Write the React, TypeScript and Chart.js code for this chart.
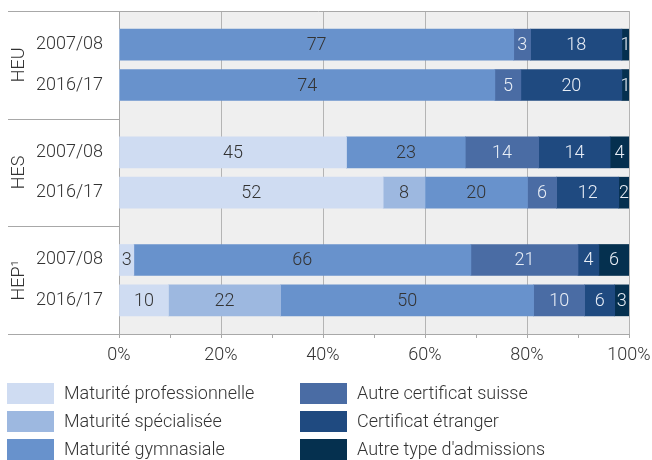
import React, { useEffect, useRef } from "react";
import { Chart, registerables } from "chart.js";
Chart.register(...registerables);

const groups = ["HEU", "HES", "HEP¹"];
const years = ["2007/08", "2016/17"];
const seriesNames = [
  "Maturité professionnelle",
  "Maturité spécialisée",
  "Maturité gymnasiale",
  "Autre certificat suisse",
  "Certificat étranger",
  "Autre type d'admissions",
];
const seriesColors = ["#cfdcf2", "#9db8e0", "#6892cc", "#4a6ca4", "#1f4a80", "#05304f"];
const labelColors = ["#333333", "#333333", "#333333", "#e8eef6", "#e8eef6", "#e8eef6"];

// rows: HEU 07/08, HEU 16/17, HES 07/08, HES 16/17, HEP 07/08, HEP 16/17
const profValues = [0, 0, 44.6, 51.8, 2.9, 9.7];
const specValues = [0, 0, 0, 8.2, 0, 22.0];
const gymValues = [77.4, 73.7, 23.3, 20.1, 66.1, 49.6];
const autreSuisseValues = [3.3, 5.1, 14.4, 5.7, 21.0, 10.0];
const etrangerValues = [17.9, 19.8, 14.0, 12.2, 4.1, 5.9];
const autreTypeValues = [1.4, 1.4, 3.7, 2.0, 5.9, 2.8];
const xTickValues = [0, 20, 40, 60, 80, 100];

const allSeries = [profValues, specValues, gymValues, autreSuisseValues, etrangerValues, autreTypeValues];

const SLOTS = 8;
const ROW_SLOTS = [2, 5];

const FONT = "Roboto";
const TEXT = "#333333";
const AXIS = "#a8a8a8";
const GRID = "#b4b4b4";
const FS = 18;

function buildLabels() {
  const out: string[] = [];
  groups.forEach(() => {
    for (let s = 0; s < SLOTS; s++) {
      const r = ROW_SLOTS.indexOf(s);
      out.push(r >= 0 ? years[r] : "");
    }
  });
  return out;
}

function spread(values: number[]) {
  const out: (number | null)[] = [];
  groups.forEach((_, g) => {
    for (let s = 0; s < SLOTS; s++) {
      const r = ROW_SLOTS.indexOf(s);
      out.push(r >= 0 ? values[g * 2 + r] : null);
    }
  });
  return out;
}

const bgPlugin = {
  id: "bg",
  beforeDraw(chart: any) {
    const { ctx, chartArea: a } = chart;
    ctx.save();
    ctx.fillStyle = "#efefef";
    ctx.fillRect(a.left, a.top, a.right - a.left, a.bottom - a.top);
    ctx.restore();
  },
};

const framePlugin = {
  id: "frame",
  afterDraw(chart: any) {
    const { ctx, chartArea: a } = chart;
    ctx.save();
    ctx.strokeStyle = AXIS;
    ctx.lineWidth = 1;
    const h = (a.bottom - a.top) / groups.length;
    for (let g = 0; g <= groups.length; g++) {
      const y = Math.round(a.top + g * h) + 0.5;
      ctx.beginPath();
      ctx.moveTo(8, y);
      ctx.lineTo(g === 0 ? a.right : a.left, y);
      ctx.stroke();
    }
    ctx.fillStyle = TEXT;
    ctx.font = `300 ${FS}px ${FONT}`;
    ctx.textAlign = "center";
    ctx.textBaseline = "middle";
    groups.forEach((name, g) => {
      const cy = a.top + (g + 0.5) * h;
      ctx.save();
      ctx.translate(19, cy);
      ctx.rotate(-Math.PI / 2);
      ctx.fillText(name, 0, 0);
      ctx.restore();
    });
    const cols = [7, 300];
    const rowsTop = [383, 411, 439];
    chart.data.datasets.forEach((ds: any, i: number) => {
      const col = Math.floor(i / 3);
      const row = i % 3;
      const x = cols[col];
      const y = rowsTop[row];
      ctx.fillStyle = ds.backgroundColor;
      ctx.fillRect(x, y, 47, 21);
      ctx.fillStyle = TEXT;
      ctx.textAlign = "left";
      ctx.textBaseline = "middle";
      ctx.font = `300 ${FS}px ${FONT}`;
      ctx.fillText(ds.label, x + 57, y + 11);
    });
    ctx.restore();
  },
};

const valueLabelPlugin = {
  id: "valueLabels",
  afterDatasetsDraw(chart: any) {
    const { ctx } = chart;
    ctx.save();
    ctx.font = `300 ${FS}px ${FONT}`;
    ctx.textAlign = "center";
    ctx.textBaseline = "middle";
    chart.data.datasets.forEach((ds: any, di: number) => {
      const meta = chart.getDatasetMeta(di);
      meta.data.forEach((el: any, idx: number) => {
        const v = ds.data[idx];
        if (v == null || v <= 0) return;
        const cx = (el.x + el.base) / 2;
        ctx.fillStyle = labelColors[di];
        ctx.fillText(String(Math.round(v)), cx, el.y + 1);
      });
    });
    ctx.restore();
  },
};

export default function App() {
  const ref = useRef<HTMLCanvasElement>(null);
  useEffect(() => {
    if (!ref.current) return;
    Chart.defaults.font.family = FONT;
    const chart = new Chart(ref.current, {
      type: "bar",
      data: {
        labels: buildLabels(),
        datasets: allSeries.map((vals, i) => ({
          label: seriesNames[i],
          data: spread(vals),
          backgroundColor: seriesColors[i],
          borderWidth: 0,
          barThickness: 31,
        })),
      },
      options: {
        indexAxis: "y",
        animation: false,
        responsive: false,
        devicePixelRatio: 1,
        layout: { padding: { top: 11, right: 23, left: 0, bottom: 0 } },
        plugins: { legend: { display: false }, tooltip: { enabled: false } },
        scales: {
          x: {
            stacked: true,
            min: 0,
            max: 100,
            afterFit: (s: any) => {
              s.height = 126;
              s.paddingLeft = 0;
              s.paddingRight = 0;
            },
            afterBuildTicks: (s: any) => {
              const ticks = [];
              for (let v = 0; v <= 100; v += 10) ticks.push({ value: v });
              s.ticks = ticks;
            },
            ticks: {
              autoSkip: false,
              padding: 7,
              color: TEXT,
              font: { size: FS, weight: "300" as any, family: FONT },
              callback: (v: any) => (xTickValues.includes(Number(v)) ? `${v}%` : ""),
            },
            grid: {
              color: (c: any) => (c.tick && xTickValues.includes(c.tick.value) ? GRID : "rgba(0,0,0,0)"),
              tickColor: AXIS,
              tickLength: 4,
              lineWidth: 1,
            },
            border: { color: AXIS, width: 1 },
          },
          y: {
            stacked: true,
            afterFit: (s: any) => {
              s.width = 119;
              s.paddingTop = 0;
              s.paddingBottom = 0;
            },
            ticks: {
              autoSkip: false,
              padding: 16,
              color: TEXT,
              font: { size: FS, weight: "300" as any, family: FONT },
            },
            grid: { display: false, drawTicks: false },
            border: { color: AXIS, width: 1 },
          },
        },
      },
      plugins: [bgPlugin, valueLabelPlugin, framePlugin],
    });
    return () => chart.destroy();
  }, []);
  return (
    <div style={{ position: "absolute", left: 0, top: 0, width: 652, height: 460 }}>
      <canvas ref={ref} width={652} height={460} style={{ display: "block" }} />
    </div>
  );
}
